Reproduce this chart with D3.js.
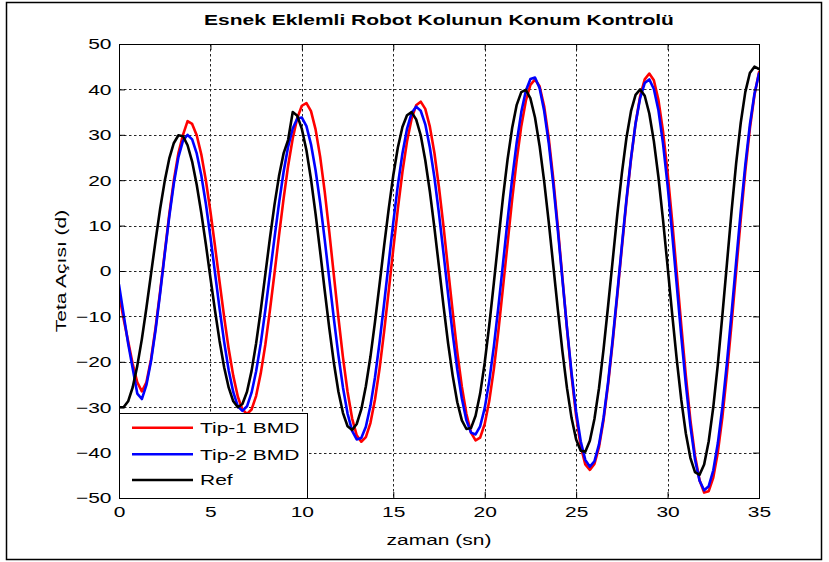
<!DOCTYPE html>
<html>
<head>
<meta charset="utf-8">
<script src="https://cdn.jsdelivr.net/npm/d3@7/dist/d3.min.js"></script>
<style>
  html, body { margin: 0; padding: 0; background: #fff; }
  svg { display: block; }
</style>
</head>
<body>
<svg id="chart" width="829" height="562"></svg>
<script>
// ---- chart text ----
const chartTitle = "Esnek Eklemli Robot Kolunun Konum Kontrolü";
const xLabel = "zaman (sn)";
const yLabel = "Teta Açısı (d)";

// ---- axes ----
const xDomain = [0, 35];
const yDomain = [-50, 50];
const xTicks = [0, 5, 10, 15, 20, 25, 30, 35];
const yTicks = [-50, -40, -30, -20, -10, 0, 10, 20, 30, 40, 50];

// ---- series (one sample every 0.25 s, from 0 to 35 s) ----
const sampleStep = 0.25;
const seriesNames = ["Tip-1 BMD", "Tip-2 BMD", "Ref"];
const seriesColors = ["#ff0000", "#0000ff", "#000000"];

const tip1 = [
  -5, -10.5, -15.5, -20.5, -24.5, -26.5, -24.5, -19.5, -12.5, -4.5,
  4.0, 12.5, 20.0, 26.0, 30.0, 33.0, 32.4, 29.9, 25.7, 20.0,
  13.1, 5.5, -2.4, -10.1, -17.2, -23.1, -27.7, -30.5, -31.5, -30.5,
  -27.5, -22.6, -16.3, -8.8, -0.6, 7.8, 15.9, 23.2, 29.2, 33.7,
  36.4, 37.0, 35.2, 31.2, 25.2, 17.5, 8.6, -0.9, -10.3, -19.1,
  -26.6, -32.5, -36.2, -37.6, -36.6, -33.5, -28.3, -21.5, -13.3, -4.4,
  4.8, 13.7, 21.8, 28.5, 33.5, 36.5, 37.3, 35.7, 31.8, 26.0,
  18.4, 9.7, 0.3, -9.0, -17.9, -25.5, -31.5, -35.6, -37.3, -36.7,
  -33.7, -28.6, -21.6, -13.1, -3.6, 6.1, 15.7, 24.4, 31.9, 37.5,
  41.0, 42.2, 40.7, 36.3, 29.3, 20.3, 9.7, -1.5, -12.7, -23.1,
  -31.9, -38.6, -42.6, -43.8, -42.5, -38.8, -32.8, -24.9, -15.6, -5.4,
  5.1, 15.3, 24.6, 32.5, 38.5, 42.2, 43.5, 42.0, 37.7, 30.8,
  21.7, 11.1, -0.4, -12.0, -23.1, -32.9, -40.7, -46.1, -48.8, -48.5,
  -45.5, -39.9, -32.1, -22.4, -11.6, -0.1, 11.3, 22.0, 31.3, 38.7,
  43.8
];

const tip2 = [
  -3, -9.5, -16, -21.5, -27, -28.2, -25.1, -19.9, -13.0, -4.9,
  3.7, 12.0, 19.3, 25.1, 28.7, 30.0, 29.0, 25.9, 21.1, 14.8,
  7.5, -0.4, -8.3, -15.6, -21.9, -26.7, -29.8, -30.8, -29.8, -26.8,
  -22.1, -16.0, -8.7, -0.8, 7.2, 14.9, 21.8, 27.4, 31.4, 33.6,
  33.8, 31.9, 27.9, 22.2, 15.1, 6.9, -1.8, -10.5, -18.6, -25.7,
  -31.4, -35.2, -37.1, -36.8, -34.3, -29.7, -23.4, -15.7, -7.1, 1.8,
  10.7, 18.9, 25.9, 31.3, 34.8, 36.2, 35.3, 32.3, 27.2, 20.6,
  12.6, 3.8, -5.2, -13.9, -21.7, -28.1, -32.9, -35.6, -36.0, -34.2,
  -30.2, -24.2, -16.6, -7.8, 1.6, 11.2, 20.3, 28.3, 35.0, 39.7,
  42.3, 42.6, 40.3, 35.3, 28.2, 19.1, 8.9, -1.9, -12.6, -22.5,
  -31.0, -37.5, -41.6, -43.1, -41.9, -38.2, -32.3, -24.4, -15.0, -4.9,
  5.6, 15.7, 24.8, 32.5, 38.1, 41.4, 42.2, 40.1, 35.4, 28.1,
  18.9, 8.3, -3.0, -14.4, -25.0, -34.2, -41.5, -46.2, -48.3, -47.4,
  -43.9, -37.9, -29.9, -20.1, -9.3, 2.0, 13.1, 23.3, 32.2, 39.0,
  43.5
];

const ref = [
  -30, -30, -28.7, -25.6, -20.9, -15, -8.1, -0.7, 6.7, 13.7,
  19.8, 24.8, 28.2, 29.9, 29.7, 27.7, 24.1, 19.0, 12.8, 5.9,
  -1.5, -8.7, -15.4, -21.2, -25.7, -28.7, -30.0, -29.3, -26.6, -22.0,
  -15.9, -8.7, -0.8, 7.1, 14.5, 20.9, 25.9, 28.9, 35.0, 34.2,
  31.3, 26.6, 20.2, 12.6, 4.3, -4.3, -12.6, -20.2, -26.6, -31.3,
  -34.2, -35.0, -33.7, -30.5, -25.4, -18.9, -11.2, -2.9, 5.6, 13.7,
  21.1, 27.2, 31.7, 34.3, 35.0, 33.4, 29.9, 24.4, 17.5, 9.5,
  0.9, -7.8, -16.0, -23.1, -28.9, -32.9, -34.8, -34.6, -31.9, -27.0,
  -20.2, -11.9, -2.6, 6.9, 16.2, 24.6, 31.5, 36.6, 39.4, 39.9,
  38.0, 33.8, 27.6, 19.8, 10.8, 1.2, -8.5, -17.7, -25.8, -32.4,
  -37.1, -39.6, -39.8, -37.4, -32.6, -25.8, -17.2, -7.6, 2.4, 12.4,
  21.5, 29.3, 35.2, 38.8, 40.0, 38.6, 34.7, 28.6, 20.7, 11.3,
  1.1, -9.4, -19.4, -28.4, -35.8, -41.2, -44.3, -44.9, -42.6, -37.5,
  -30.0, -20.5, -9.6, 1.8, 13.2, 23.7, 32.6, 39.4, 43.6, 45.0,
  44.5
];

// ---- layout ----
const W = 829, H = 562;
const plot = { left: 119, right: 759, top: 44, bottom: 498 };
const textStretch = 1.4;          // wide glyph rendering along the text direction
const fontFamily = "'Liberation Sans', Arial, Helvetica, sans-serif";
const fontSize = 15;

const svg = d3.select("#chart");
svg.append("rect").attr("width", W).attr("height", H).attr("fill", "#fff");

// figure frame
svg.append("rect")
  .attr("x", 6.5).attr("y", 2.5)
  .attr("width", 815).attr("height", 557)
  .attr("fill", "none").attr("stroke", "#000").attr("stroke-width", 1.5);

const x = d3.scaleLinear().domain(xDomain).range([plot.left, plot.right]);
const y = d3.scaleLinear().domain(yDomain).range([plot.bottom, plot.top]);

// axes background
svg.append("rect")
  .attr("x", plot.left).attr("y", plot.top)
  .attr("width", plot.right - plot.left).attr("height", plot.bottom - plot.top)
  .attr("fill", "#fff");

// dotted grid
const grid = svg.append("g").attr("stroke", "#000").attr("stroke-width", 1)
  .attr("stroke-dasharray", "2.5,2.5").attr("opacity", 0.85);
grid.selectAll("line.vx").data(xTicks.filter(d => d > xDomain[0] && d < xDomain[1]))
  .join("line").attr("class", "vx")
  .attr("x1", d => Math.round(x(d)) + 0.5).attr("x2", d => Math.round(x(d)) + 0.5)
  .attr("y1", plot.top).attr("y2", plot.bottom);
grid.selectAll("line.hy").data(yTicks.filter(d => d > yDomain[0] && d < yDomain[1]))
  .join("line").attr("class", "hy")
  .attr("y1", d => Math.round(y(d)) + 0.5).attr("y2", d => Math.round(y(d)) + 0.5)
  .attr("x1", plot.left).attr("x2", plot.right);

// curves
const clipId = "plot-clip";
svg.append("clipPath").attr("id", clipId).append("rect")
  .attr("x", plot.left).attr("y", plot.top)
  .attr("width", plot.right - plot.left).attr("height", plot.bottom - plot.top);

const seriesData = [tip1, tip2, ref];
const line = d3.line()
  .x((d, i) => x(i * sampleStep))
  .y(d => y(d));

svg.append("g").attr("clip-path", `url(#${clipId})`)
  .selectAll("path").data(seriesData).join("path")
  .attr("d", line)
  .attr("fill", "none")
  .attr("stroke", (d, i) => seriesColors[i])
  .attr("stroke-width", 2.6)
  .attr("stroke-linejoin", "round")
  .attr("stroke-linecap", "round");

// axes with inward ticks on all four sides
const tickLen = 6;
function styleAxis(g) {
  g.select(".domain").remove();
  g.selectAll(".tick line").attr("stroke", "#000").attr("stroke-width", 1);
  g.selectAll(".tick text")
    .attr("font-family", fontFamily).attr("font-size", fontSize).attr("fill", "#000");
}

const gx = svg.append("g").attr("transform", `translate(0,${plot.bottom})`)
  .call(d3.axisBottom(x).tickValues(xTicks).tickSizeInner(-tickLen).tickSizeOuter(0).tickPadding(8))
  .call(styleAxis);
gx.selectAll(".tick text").attr("transform", `scale(${textStretch},1)`);

const yPad = 7.5;
const gy = svg.append("g").attr("transform", `translate(${plot.left},0)`)
  .call(d3.axisLeft(y).tickValues(yTicks).tickSizeInner(-tickLen).tickSizeOuter(0))
  .call(styleAxis);
gy.selectAll(".tick text").attr("x", -yPad / textStretch)
  .attr("transform", `scale(${textStretch},1)`);

svg.append("g").attr("transform", `translate(0,${plot.top})`)
  .call(d3.axisTop(x).tickValues(xTicks).tickSizeInner(-tickLen).tickSizeOuter(0).tickFormat(""))
  .call(styleAxis);
svg.append("g").attr("transform", `translate(${plot.right},0)`)
  .call(d3.axisRight(y).tickValues(yTicks).tickSizeInner(-tickLen).tickSizeOuter(0).tickFormat(""))
  .call(styleAxis);

// axes box
svg.append("rect")
  .attr("x", plot.left + 0.5).attr("y", plot.top + 0.5)
  .attr("width", plot.right - plot.left).attr("height", plot.bottom - plot.top)
  .attr("fill", "none").attr("stroke", "#000").attr("stroke-width", 1);

// title and axis labels
svg.append("text")
  .attr("transform", `translate(${(plot.left + plot.right) / 2},25) scale(${textStretch},1)`)
  .attr("text-anchor", "middle")
  .attr("font-family", fontFamily).attr("font-size", 15).attr("font-weight", "bold")
  .text(chartTitle);

svg.append("text")
  .attr("transform", `translate(${(plot.left + plot.right) / 2},545) scale(${textStretch},1)`)
  .attr("text-anchor", "middle")
  .attr("font-family", fontFamily).attr("font-size", fontSize)
  .text(xLabel);

svg.append("text")
  .attr("transform", `translate(66,${(plot.top + plot.bottom) / 2}) rotate(-90) scale(${textStretch},1)`)
  .attr("text-anchor", "middle")
  .attr("font-family", fontFamily).attr("font-size", fontSize)
  .text(yLabel);

// legend, lower-left corner of the axes
const legend = { x: plot.left, y: 413, w: 188, h: plot.bottom - 413 };
const lg = svg.append("g");
lg.append("rect")
  .attr("x", legend.x + 0.5).attr("y", legend.y + 0.5)
  .attr("width", legend.w).attr("height", legend.h)
  .attr("fill", "#fff").attr("stroke", "#000").attr("stroke-width", 1);
const rowY = [427.7, 454.3, 480];
const rows = lg.selectAll("g.row").data(seriesNames).join("g").attr("class", "row");
rows.append("line")
  .attr("x1", 132).attr("x2", 193)
  .attr("y1", (d, i) => rowY[i]).attr("y2", (d, i) => rowY[i])
  .attr("stroke", (d, i) => seriesColors[i]).attr("stroke-width", 2.6);
rows.append("text")
  .attr("transform", (d, i) => `translate(200,${rowY[i] + 5.3}) scale(${textStretch},1)`)
  .attr("font-family", fontFamily).attr("font-size", fontSize)
  .text(d => d);
</script>
</body>
</html>
